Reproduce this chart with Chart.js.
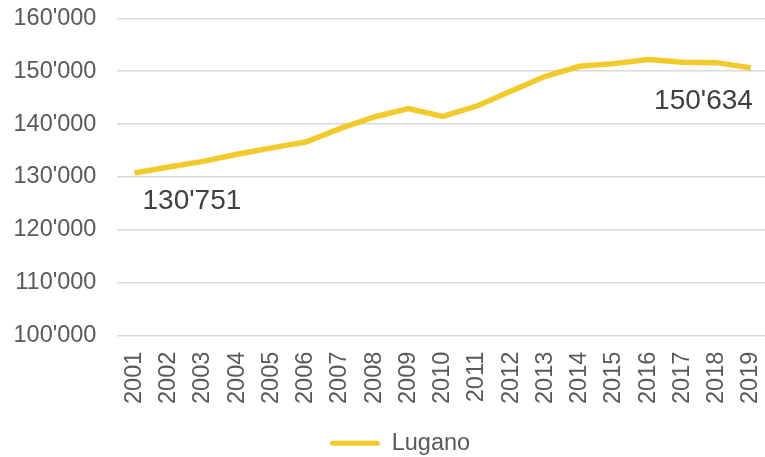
<!DOCTYPE html>
<html>
<head>
<meta charset="utf-8">
<script src="https://cdn.jsdelivr.net/npm/chart.js@4.4.1/dist/chart.umd.min.js"></script>
<style>
  html, body { margin: 0; padding: 0; overflow: hidden; background: #fff; }
  #wrap { width: 768px; height: 457px; }
</style>
</head>
<body>
<div id="wrap"><canvas id="canvas" width="768" height="457"></canvas></div>
<script>
// Dati: popolazione Lugano
const years = ['2001','2002','2003','2004','2005','2006','2007','2008','2009','2010',
               '2011','2012','2013','2014','2015','2016','2017','2018','2019']
const lugano = [130751, 131900, 132950, 134300, 135500, 136600, 139150, 141350, 142930, 141470,
                143420, 146250, 149040, 150930, 151430, 152190, 151680, 151620, 150634]
const yTicks = [100000, 110000, 120000, 130000, 140000, 150000, 160000]

const FONT = '"Liberation Sans", Arial, sans-serif'
const YELLOW = '#F2CA2C'
const PLOT_BOTTOM = 335.7

// separatore delle migliaia svizzero
const fmt = v => String(v).replace(/\B(?=(\d{3})+(?!\d))/g, "'")

// etichette sul primo e ultimo punto
const endLabels = {
  id: 'endLabels',
  afterLayout(chart) {
    // sposta la legenda come nell'originale
    const lg = chart.legend
    lg.left += 16; lg.right += 16
    lg.top += 12; lg.bottom += 12
  },
  afterDatasetsDraw(chart) {
    const ctx = chart.ctx
    const pts = chart.getDatasetMeta(0).data
    const first = pts[0], last = pts[pts.length - 1]
    ctx.save()
    ctx.font = '28px ' + FONT
    ctx.fillStyle = '#404040'
    ctx.textBaseline = 'alphabetic'
    ctx.textAlign = 'left'
    ctx.fillText(fmt(lugano[0]), first.x + 8, first.y + 36)
    ctx.textAlign = 'right'
    ctx.fillText(fmt(lugano[lugano.length - 1]), last.x + 2, last.y + 41)
    ctx.restore()
  }
}

const config = {
  type: 'line',
  data: {
    labels: years,
    datasets: [{
      label: 'Lugano',
      data: lugano,
      borderColor: YELLOW,
      backgroundColor: YELLOW,
      borderWidth: 5.5,
      pointRadius: 0,
      tension: 0,
    }],
  },
  options: {
    responsive: false,
    animation: false,
    layout: { padding: { left: 0, top: 18.3, right: 0, bottom: 4 } },
    plugins: {
      tooltip: { enabled: false },
      legend: {
        position: 'bottom',
        labels: {
          font: { family: FONT, size: 23.5 },
          color: '#595959',
          boxWidth: 50,
          boxHeight: 5,
          useBorderRadius: true,
          borderRadius: 2.5,
          padding: 6,
          generateLabels(chart) {
            return Chart.defaults.plugins.legend.labels.generateLabels(chart)
              .map(l => Object.assign(l, { lineWidth: 0, fillStyle: YELLOW }))
          },
        },
      },
    },
    scales: {
      x: {
        offset: true,
        afterFit(scale) {
          scale.paddingLeft = 0
          scale.paddingRight = 0
          const lh = scale.chart.legend ? scale.chart.legend.height : 0
          scale.height = scale.chart.height - PLOT_BOTTOM - lh - 4
        },
        grid: { display: false, drawTicks: false },
        border: { display: false },
        ticks: {
          font: { family: FONT, size: 23.5 },
          color: '#595959',
          minRotation: 90,
          maxRotation: 90,
          autoSkip: false,
          padding: 16,
        },
      },
      y: {
        min: 100000,
        max: 160000,
        afterFit(scale) {
          scale.width = 117.4
          scale.paddingTop = 0
          scale.paddingBottom = 0
        },
        afterBuildTicks(scale) { scale.ticks = yTicks.map(v => ({ value: v })) },
        grid: { color: '#D9D9D9', lineWidth: 1.5, drawTicks: false },
        border: { display: false },
        ticks: {
          font: { family: FONT, size: 23.5 },
          color: '#595959',
          padding: 21,
          callback: v => fmt(v),
        },
      },
    },
  },
  plugins: [endLabels],
}

const canvas = document.getElementById('canvas')
const chart = new Chart(canvas, config)
</script>
</body>
</html>
